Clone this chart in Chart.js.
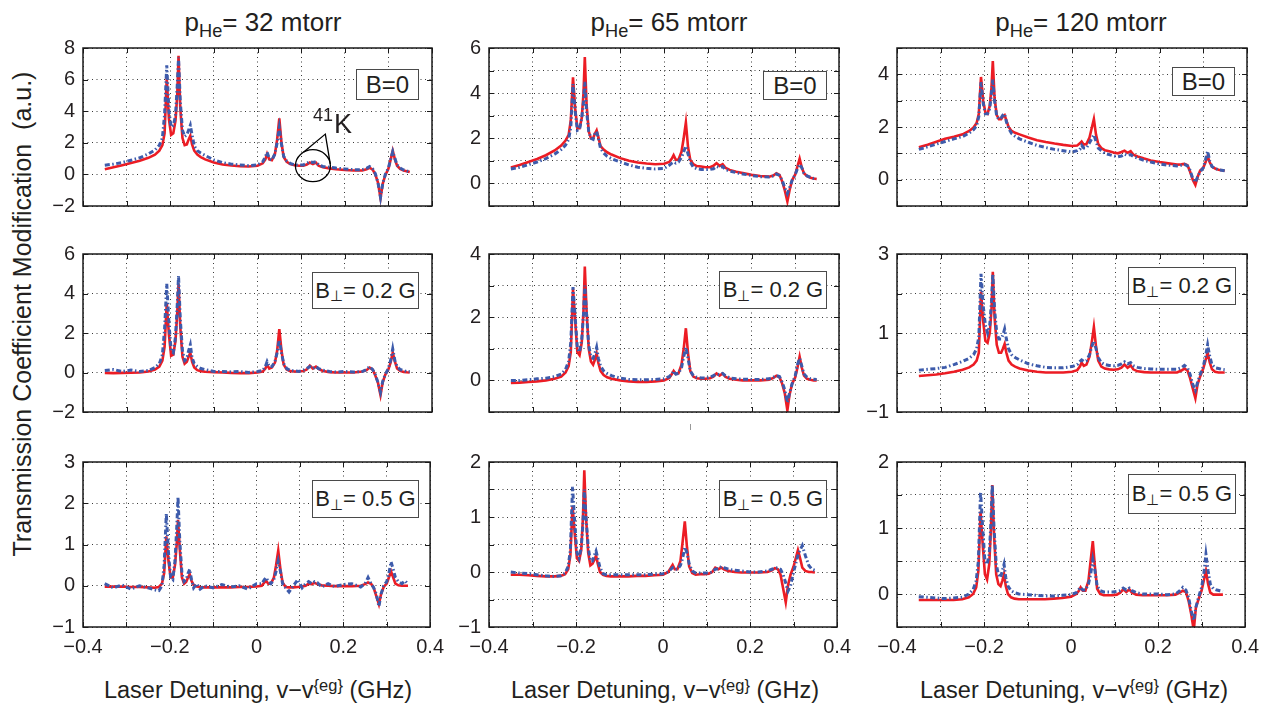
<!DOCTYPE html>
<html>
<head>
<meta charset="utf-8">
<script src="https://cdn.jsdelivr.net/npm/chart.js@4.4.1/dist/chart.umd.min.js"></script>
<style>
    body { margin: 0; background: #fff; }
    #figura { position: relative; width: 1272px; height: 709px; overflow: hidden;
              font-family: "Liberation Sans", Arial, Helvetica, sans-serif; color: #231f20; }
    #figura canvas { position: absolute; }
    .txt { position: absolute; white-space: nowrap; line-height: 1; }
    .titulo { font-size: 26px; transform: translateX(-50%); }
    .eixoX { font-size: 23.5px; transform: translateX(-50%); }
    .eixoY { position: absolute; left: -278px; top: 299px; width: 600px; height: 30px; line-height: 30px;
             text-align: center; white-space: nowrap; font-size: 25px; transform: rotate(-90deg); }
    .caixa { position: absolute; box-sizing: border-box; border: 1.5px solid #4a4a4a; background: #fff;
             font-size: 22px; line-height: 1; display: flex; align-items: center; justify-content: center;
             white-space: nowrap; }
    .caixa.b0 { font-size: 24px; }
    .sub { font-size: 0.7em; position: relative; top: 0.35em; }
    .sup { font-size: 0.7em; position: relative; top: -0.45em; }
</style>
</head>
<body>
<div id="figura">
    <div class="txt titulo" style="left:263px;top:9px">p<span class="sub">He</span>= 32 mtorr</div>
    <div class="txt titulo" style="left:669px;top:9px">p<span class="sub">He</span>= 65 mtorr</div>
    <div class="txt titulo" style="left:1081px;top:9px">p<span class="sub">He</span>= 120 mtorr</div>

    <div class="txt eixoX" style="left:258px;top:679px">Laser Detuning, v&minus;v<span class="sup">{eg}</span> (GHz)</div>
    <div class="txt eixoX" style="left:665px;top:679px">Laser Detuning, v&minus;v<span class="sup">{eg}</span> (GHz)</div>
    <div class="txt eixoX" style="left:1074px;top:679px">Laser Detuning, v&minus;v<span class="sup">{eg}</span> (GHz)</div>

    <div class="eixoY">Transmission Coefficient Modification&nbsp;&nbsp;(a.u.)</div>
</div>

<script>
// ============================================
// DADOS
// ============================================

// Eixo x comum: dessintonia do laser (GHz), mais denso perto dos picos
const detuning = [
    -0.35, -0.33, -0.31, -0.29, -0.27, -0.25, -0.235, -0.225, -0.218, -0.213,
    -0.208, -0.203, -0.198, -0.193, -0.188, -0.184, -0.181, -0.177, -0.172, -0.167,
    -0.162, -0.158, -0.154, -0.150, -0.145, -0.138, -0.13, -0.12, -0.10, -0.08,
    -0.06, -0.04, -0.02, 0.0, 0.012, 0.018, 0.022, 0.027, 0.033, 0.040,
    0.045, 0.050, 0.055, 0.060, 0.067, 0.075, 0.085, 0.095, 0.105, 0.113,
    0.120, 0.127, 0.134, 0.140, 0.150, 0.165, 0.18, 0.20, 0.22, 0.24,
    0.250, 0.257, 0.264, 0.270, 0.276, 0.282, 0.287, 0.293, 0.300, 0.305,
    0.310, 0.315, 0.320, 0.327, 0.335, 0.342, 0.349
];

// p_He = 32 mtorr
const fit32B0 = [
    0.33, 0.45, 0.58, 0.72, 0.87, 1.05, 1.25, 1.5, 1.85, 2.6,
    6.1, 3.5, 2.5, 2.6, 3.4, 5.0, 7.5, 4.2, 2.3, 1.85,
    1.9, 2.2, 2.45, 1.9, 1.5, 1.25, 1.1, 0.95, 0.75, 0.63,
    0.56, 0.52, 0.5, 0.55, 0.7, 0.95, 1.3, 0.95, 0.9, 1.3,
    2.2, 3.55, 2.0, 1.1, 0.8, 0.65, 0.58, 0.55, 0.55, 0.62,
    0.75, 0.65, 0.75, 0.55, 0.45, 0.38, 0.33, 0.28, 0.25, 0.25,
    0.32, 0.42, 0.3, 0.0, -0.5, -1.5, -0.6, -0.05, 0.35, 0.9,
    1.5, 0.95, 0.55, 0.35, 0.25, 0.2, 0.15
];
const dados32B0 = [
    0.58, 0.65, 0.75, 0.9, 1.05, 1.3, 1.55, 1.85, 2.3, 3.8,
    6.9, 4.0, 3.0, 3.1, 3.7, 5.6, 7.4, 4.6, 2.8, 2.4,
    2.5, 2.8, 3.1, 2.5, 1.8, 1.5, 1.35, 1.2, 0.92, 0.75,
    0.65, 0.6, 0.55, 0.6, 0.8, 1.1, 1.4, 1.0, 0.9, 1.3,
    2.0, 2.95, 1.9, 1.15, 0.85, 0.7, 0.6, 0.6, 0.6, 0.7,
    0.8, 0.75, 0.8, 0.6, 0.5, 0.45, 0.4, 0.35, 0.3, 0.3,
    0.38, 0.5, 0.35, 0.05, -0.5, -1.45, -0.6, 0.0, 0.4, 0.95,
    1.45, 1.0, 0.6, 0.4, 0.28, 0.22, 0.15
];
const fit32B02 = [
    -0.02, -0.03, -0.02, -0.01, 0.0, 0.05, 0.15, 0.3, 0.6, 1.3,
    3.5, 1.9, 0.85, 0.9, 1.6, 3.0, 4.5, 2.3, 0.8, 0.45,
    0.55, 0.8, 1.0, 0.55, 0.25, 0.12, 0.07, 0.04, 0.02, 0.0,
    -0.02, -0.03, -0.03, 0.0, 0.05, 0.2, 0.4, 0.2, 0.25, 0.5,
    1.1, 2.2, 1.1, 0.4, 0.15, 0.07, 0.05, 0.05, 0.08, 0.15,
    0.35, 0.2, 0.3, 0.18, 0.08, 0.02, 0.0, 0.0, 0.0, 0.05,
    0.12, 0.25, 0.15, -0.15, -0.5, -1.15, -0.5, -0.1, 0.15, 0.5,
    1.0, 0.55, 0.2, 0.08, 0.03, 0.01, 0.0
];
const dados32B02 = [
    0.1, 0.15, 0.05, 0.12, 0.05, 0.1, 0.25, 0.45, 0.9, 2.2,
    4.5, 2.5, 1.1, 1.0, 1.8, 3.4, 4.9, 2.7, 1.1, 0.6,
    0.7, 1.1, 1.4, 0.75, 0.45, 0.3, 0.2, 0.15, 0.05, 0.05,
    0.03, 0.05, 0.0, 0.05, 0.1, 0.3, 0.55, 0.3, 0.3, 0.55,
    1.0, 1.65, 1.0, 0.45, 0.2, 0.1, 0.08, 0.05, 0.12, 0.2,
    0.3, 0.2, 0.3, 0.2, 0.12, 0.05, 0.02, 0.05, 0.02, 0.05,
    0.15, 0.3, 0.15, -0.1, -0.5, -1.0, -0.45, -0.1, 0.2, 0.6,
    1.2, 0.6, 0.3, 0.15, 0.1, 0.05, 0.05
];
const fit32B05 = [
    -0.02, -0.02, -0.02, -0.03, -0.03, -0.04, -0.05, -0.03, 0.05, 0.3,
    1.2, 0.6, 0.2, 0.2, 0.5, 1.0, 1.6, 0.9, 0.2, 0.05,
    0.1, 0.2, 0.28, 0.12, 0.02, -0.02, -0.03, -0.04, -0.04, -0.04,
    -0.04, -0.03, -0.03, -0.02, 0.0, 0.08, 0.12, 0.05, 0.05, 0.2,
    0.5, 0.85, 0.4, 0.08, -0.03, -0.04, -0.04, -0.03, -0.02, 0.0,
    0.05, 0.04, 0.07, 0.04, 0.01, 0.0, -0.01, -0.01, -0.01, 0.0,
    0.04, 0.08, 0.05, -0.05, -0.25, -0.45, -0.2, -0.03, 0.05, 0.2,
    0.35, 0.2, 0.05, 0.01, 0.0, 0.0, 0.0
];
const dados32B05 = [
    0.05, -0.05, 0.02, -0.08, 0.0, -0.05, -0.1, -0.12, 0.0, 0.5,
    1.75, 0.8, 0.2, 0.15, 0.6, 1.4, 2.15, 1.1, 0.3, 0.1,
    0.15, 0.3, 0.4, 0.15, -0.05, 0.05, -0.08, 0.0, -0.05, 0.03,
    -0.03, 0.0, -0.08, 0.05, 0.05, 0.15, 0.2, 0.1, 0.05, 0.15,
    0.35, 0.6, 0.35, 0.05, -0.05, -0.15, 0.0, 0.15, -0.05, 0.05,
    0.1, 0.05, 0.1, 0.08, -0.03, 0.05, -0.02, 0.03, 0.05, -0.03,
    0.05, 0.2, 0.05, -0.05, -0.2, -0.5, -0.2, 0.0, 0.1, 0.3,
    0.58, 0.4, 0.2, 0.1, 0.05, 0.12, 0.05
];

// p_He = 65 mtorr
const fit65B0 = [
    0.71, 0.82, 0.95, 1.08, 1.25, 1.46, 1.68, 1.9, 2.15, 2.8,
    4.7, 3.3, 2.45, 2.45, 2.9, 4.0, 5.6, 3.5, 2.3, 2.0,
    2.0, 2.2, 2.35, 2.05, 1.65, 1.5, 1.38, 1.28, 1.12, 1.0,
    0.93, 0.88, 0.85, 0.87, 0.95, 1.1, 1.25, 1.05, 1.05, 1.4,
    2.0, 2.7, 1.6, 1.05, 0.85, 0.77, 0.75, 0.72, 0.72, 0.78,
    0.9, 0.78, 0.85, 0.7, 0.6, 0.52, 0.46, 0.38, 0.33, 0.3,
    0.35, 0.45, 0.38, 0.1, -0.3, -0.8, -0.3, 0.15, 0.4, 0.75,
    1.1, 0.7, 0.45, 0.32, 0.25, 0.22, 0.2
];
const dados65B0 = [
    0.64, 0.72, 0.83, 0.95, 1.1, 1.3, 1.5, 1.7, 1.95, 2.5,
    4.4, 3.2, 2.35, 2.4, 2.9, 3.6, 4.5, 3.2, 2.3, 2.0,
    1.95, 2.2, 2.3, 2.0, 1.55, 1.35, 1.2, 1.1, 0.95, 0.82,
    0.72, 0.67, 0.64, 0.66, 0.8, 0.9, 0.95, 0.9, 0.95, 1.15,
    1.4, 1.65, 1.3, 0.95, 0.72, 0.65, 0.62, 0.62, 0.62, 0.65,
    0.75, 0.7, 0.75, 0.62, 0.55, 0.48, 0.42, 0.35, 0.3, 0.28,
    0.33, 0.42, 0.35, 0.15, -0.2, -0.45, -0.2, 0.15, 0.4, 0.65,
    0.85, 0.7, 0.45, 0.33, 0.27, 0.22, 0.2
];
const fit65B02 = [
    -0.08, -0.07, -0.05, -0.03, 0.0, 0.05, 0.12, 0.25, 0.45, 0.9,
    2.9, 1.9, 0.9, 0.8, 1.2, 2.2, 3.6, 2.2, 1.0, 0.6,
    0.5, 0.65, 0.85, 0.55, 0.3, 0.17, 0.1, 0.05, 0.0, -0.03,
    -0.05, -0.05, -0.03, 0.0, 0.08, 0.2, 0.3, 0.2, 0.22, 0.5,
    1.0, 1.65, 0.85, 0.3, 0.12, 0.07, 0.05, 0.05, 0.07, 0.12,
    0.22, 0.15, 0.22, 0.12, 0.05, 0.02, 0.0, 0.0, 0.0, 0.02,
    0.08, 0.15, 0.1, -0.1, -0.4, -0.95, -0.45, -0.1, 0.1, 0.4,
    0.75, 0.4, 0.15, 0.05, 0.02, 0.0, 0.0
];
const dados65B02 = [
    0.0, 0.0, 0.02, 0.05, 0.07, 0.12, 0.2, 0.35, 0.6, 1.2,
    2.95, 2.0, 1.0, 0.9, 1.3, 2.1, 3.0, 2.1, 1.1, 0.75,
    0.7, 0.85, 1.05, 0.7, 0.45, 0.3, 0.22, 0.15, 0.07, 0.03,
    0.02, 0.02, 0.03, 0.05, 0.12, 0.2, 0.3, 0.2, 0.22, 0.4,
    0.75, 1.05, 0.7, 0.3, 0.15, 0.1, 0.08, 0.07, 0.1, 0.15,
    0.2, 0.18, 0.22, 0.15, 0.08, 0.05, 0.04, 0.03, 0.03, 0.05,
    0.1, 0.15, 0.12, -0.05, -0.3, -0.7, -0.4, -0.1, 0.15, 0.5,
    0.7, 0.45, 0.2, 0.1, 0.05, 0.04, 0.03
];
const fit65B05 = [
    -0.05, -0.05, -0.06, -0.07, -0.08, -0.08, -0.07, -0.04, 0.05, 0.3,
    1.2, 0.7, 0.25, 0.2, 0.4, 1.0, 1.85, 1.0, 0.35, 0.12,
    0.15, 0.22, 0.3, 0.15, 0.0, -0.05, -0.07, -0.08, -0.08, -0.08,
    -0.07, -0.07, -0.06, -0.05, 0.0, 0.08, 0.13, 0.05, 0.05, 0.2,
    0.55, 0.92, 0.45, 0.1, -0.02, -0.05, -0.04, -0.04, -0.03, 0.0,
    0.08, 0.05, 0.08, 0.05, 0.02, 0.0, -0.01, -0.01, -0.01, 0.0,
    0.03, 0.07, 0.05, -0.05, -0.3, -0.55, -0.25, -0.05, 0.1, 0.25,
    0.4, 0.25, 0.08, 0.02, 0.0, 0.0, -0.01
];
const dados65B05 = [
    0.0, -0.02, -0.03, -0.05, -0.07, -0.08, -0.07, -0.02, 0.1, 0.4,
    1.55, 0.9, 0.35, 0.25, 0.45, 0.9, 1.5, 1.0, 0.45, 0.2,
    0.2, 0.3, 0.38, 0.25, 0.08, -0.03, -0.05, -0.05, -0.05, -0.05,
    -0.05, -0.05, -0.04, -0.03, 0.0, 0.05, 0.08, 0.05, 0.05, 0.12,
    0.25, 0.45, 0.35, 0.15, 0.02, -0.02, -0.02, -0.02, -0.02, 0.0,
    0.05, 0.06, 0.1, 0.08, 0.05, 0.03, 0.02, 0.0, 0.0, 0.02,
    0.05, 0.07, 0.08, 0.05, -0.05, -0.2, -0.35, -0.25, 0.0, 0.15,
    0.3, 0.4, 0.48, 0.3, 0.12, 0.05, 0.03
];

// p_He = 120 mtorr
const fit120B0 = [
    1.23, 1.33, 1.44, 1.55, 1.63, 1.72, 1.85, 1.98, 2.15, 2.5,
    3.9, 3.0, 2.55, 2.5, 2.8, 3.5, 4.5, 3.1, 2.45, 2.3,
    2.3, 2.4, 2.45, 2.25, 2.0, 1.85, 1.78, 1.72, 1.6, 1.5,
    1.43, 1.37, 1.32, 1.28, 1.3, 1.38, 1.45, 1.33, 1.35, 1.6,
    1.95, 2.3, 1.7, 1.35, 1.2, 1.12, 1.08, 1.03, 1.0, 1.05,
    1.1, 1.02, 1.08, 0.95, 0.88, 0.8, 0.73, 0.67, 0.62, 0.57,
    0.58, 0.6, 0.55, 0.3, 0.0, -0.2, 0.1, 0.35, 0.45, 0.65,
    0.9, 0.65, 0.5, 0.42, 0.38, 0.36, 0.34
];
const dados120B0 = [
    1.15, 1.25, 1.35, 1.45, 1.55, 1.64, 1.77, 1.9, 2.05, 2.4,
    3.7, 2.9, 2.5, 2.5, 2.7, 3.3, 3.8, 3.0, 2.4, 2.3,
    2.35, 2.45, 2.5, 2.2, 1.95, 1.75, 1.65, 1.55, 1.42, 1.3,
    1.22, 1.15, 1.1, 1.05, 1.1, 1.15, 1.3, 1.2, 1.2, 1.4,
    1.55, 1.7, 1.45, 1.2, 1.1, 1.0, 0.95, 0.9, 0.87, 0.9,
    0.97, 0.92, 0.95, 0.88, 0.82, 0.73, 0.67, 0.6, 0.55, 0.52,
    0.55, 0.58, 0.52, 0.35, 0.05, -0.1, 0.1, 0.3, 0.45, 0.75,
    1.08, 0.7, 0.5, 0.42, 0.38, 0.36, 0.34
];
const fit120B02 = [
    -0.09, -0.07, -0.05, -0.02, 0.02, 0.07, 0.13, 0.2, 0.3, 0.5,
    2.05, 1.3, 0.8, 0.75, 1.0, 1.6, 2.55, 1.4, 0.7, 0.5,
    0.5, 0.6, 0.72, 0.5, 0.3, 0.2, 0.15, 0.1, 0.05, 0.02,
    0.0, 0.0, 0.0, 0.02, 0.06, 0.15, 0.25, 0.17, 0.2, 0.4,
    0.75, 1.15, 0.65, 0.3, 0.15, 0.1, 0.08, 0.07, 0.08, 0.12,
    0.2, 0.12, 0.18, 0.08, 0.03, 0.01, 0.0, 0.0, 0.0, 0.0,
    0.05, 0.1, 0.05, -0.15, -0.4, -0.65, -0.3, -0.1, 0.1, 0.3,
    0.5, 0.25, 0.08, 0.02, 0.0, 0.0, 0.0
];
const dados120B02 = [
    0.06, 0.08, 0.1, 0.13, 0.2, 0.28, 0.36, 0.45, 0.6, 0.9,
    2.5, 1.7, 1.2, 1.0, 1.2, 1.8, 2.5, 1.6, 1.0, 0.85,
    0.85, 0.95, 1.1, 0.85, 0.6, 0.45, 0.38, 0.32, 0.22, 0.17,
    0.13, 0.12, 0.12, 0.15, 0.2, 0.28, 0.32, 0.28, 0.3, 0.45,
    0.65, 0.8, 0.6, 0.38, 0.25, 0.2, 0.18, 0.17, 0.18, 0.22,
    0.27, 0.22, 0.25, 0.17, 0.13, 0.1, 0.09, 0.08, 0.08, 0.08,
    0.12, 0.18, 0.12, -0.05, -0.3, -0.45, -0.25, -0.05, 0.15, 0.4,
    0.7, 0.4, 0.2, 0.12, 0.1, 0.08, 0.07
];
const fit120B05 = [
    -0.09, -0.09, -0.09, -0.09, -0.09, -0.08, -0.05, 0.0, 0.1, 0.35,
    1.25, 0.75, 0.3, 0.22, 0.45, 1.0, 1.65, 0.9, 0.3, 0.15,
    0.12, 0.2, 0.3, 0.12, 0.0, -0.05, -0.07, -0.08, -0.08, -0.08,
    -0.08, -0.07, -0.06, -0.04, 0.0, 0.05, 0.1, 0.05, 0.05, 0.2,
    0.5, 0.8, 0.4, 0.08, 0.0, -0.02, -0.02, -0.02, -0.01, 0.02,
    0.07, 0.03, 0.07, 0.02, -0.01, -0.02, -0.02, -0.02, -0.02, -0.01,
    0.02, 0.05, 0.03, -0.1, -0.3, -0.55, -0.2, -0.08, 0.05, 0.2,
    0.35, 0.15, 0.02, -0.01, -0.01, -0.01, -0.01
];
const dados120B05 = [
    -0.04, -0.05, -0.06, -0.07, -0.06, -0.05, 0.0, 0.07, 0.2, 0.5,
    1.55, 1.0, 0.5, 0.45, 0.6, 1.1, 1.65, 1.0, 0.45, 0.3,
    0.25, 0.35, 0.45, 0.25, 0.12, 0.05, 0.02, 0.0, -0.01, -0.02,
    -0.03, -0.03, -0.02, -0.01, 0.02, 0.07, 0.1, 0.06, 0.06, 0.15,
    0.3, 0.52, 0.35, 0.12, 0.05, 0.03, 0.03, 0.03, 0.04, 0.05,
    0.09, 0.06, 0.09, 0.05, 0.02, 0.0, 0.0, 0.0, -0.01, 0.0,
    0.05, 0.1, 0.06, -0.05, -0.25, -0.4, -0.2, -0.05, 0.1, 0.3,
    0.6, 0.35, 0.15, 0.08, 0.06, 0.05, 0.04
];

// Rótulos dos ticks
const xTickLabels = [-0.4, -0.2, 0, 0.2, 0.4];
const yLabels32B0 = [-2, 0, 2, 4, 6, 8];
const yLabels32B02 = [-2, 0, 2, 4, 6];
const yLabels32B05 = [-1, 0, 1, 2, 3];
const yLabels65B0 = [0, 2, 4, 6];
const yLabels65B02 = [0, 2, 4];
const yLabels65B05 = [-1, 0, 1, 2];
const yLabels120B0 = [0, 2, 4];
const yLabels120B02 = [-1, 1, 3];
const yLabels120B05 = [0, 1, 2];

// Legendas das caixas de campo magnético
const camposB = ['B=0', 'B<span class="sub">\u22A5</span>= 0.2 G', 'B<span class="sub">\u22A5</span>= 0.5 G'];

// ============================================
// LAYOUT E ESTILO
// ============================================
const FONTE = '"Liberation Sans", Arial, Helvetica, sans-serif';
const COR_TEXTO = '#231f20';
const VERMELHO = '#ec1c24';
const AZUL = '#3d5bab';

const colLeft = [83, 489, 897];
const colWidth = [349, 350, 350];
const rowTop = [42, 248, 456];
const rowHeight = [170, 170, 171];

const LARGURA_Y = 60;
const PAD_TOP = 14;
const PAD_RIGHT = 20;

// caixas [left, top, width, height] por linha/coluna
const caixas = [
    [[356, 69, 63, 31], [763, 71, 64, 29], [1172, 67, 63, 29]],
    [[312, 272, 107, 37], [719, 271, 108, 38], [1128, 267, 108, 38]],
    [[312, 480, 107, 38], [719, 480, 108, 38], [1128, 474, 108, 40]]
];

const paineis = [
    { row: 0, col: 0, fit: fit32B0, dados: dados32B0, yMin: -2, yMax: 8, yStep: 2, yLabels: yLabels32B0 },
    { row: 0, col: 1, fit: fit65B0, dados: dados65B0, yMin: -1, yMax: 6, yStep: 1, yLabels: yLabels65B0 },
    { row: 0, col: 2, fit: fit120B0, dados: dados120B0, yMin: -1, yMax: 5, yStep: 1, yLabels: yLabels120B0 },
    { row: 1, col: 0, fit: fit32B02, dados: dados32B02, yMin: -2, yMax: 6, yStep: 2, yLabels: yLabels32B02 },
    { row: 1, col: 1, fit: fit65B02, dados: dados65B02, yMin: -1, yMax: 4, yStep: 1, yLabels: yLabels65B02 },
    { row: 1, col: 2, fit: fit120B02, dados: dados120B02, yMin: -1, yMax: 3, yStep: 1, yLabels: yLabels120B02 },
    { row: 2, col: 0, fit: fit32B05, dados: dados32B05, yMin: -1, yMax: 3, yStep: 1, yLabels: yLabels32B05 },
    { row: 2, col: 1, fit: fit65B05, dados: dados65B05, yMin: -1, yMax: 2, yStep: 0.5, yLabels: yLabels65B05 },
    { row: 2, col: 2, fit: fit120B05, dados: dados120B05, yMin: -0.5, yMax: 2, yStep: 0.5, yLabels: yLabels120B05 }
];

// ============================================
// PLUGINS
// ============================================

/**
 * Moldura do gráfico com ticks para dentro (estilo MATLAB)
 */
const moldura = {
    id: 'moldura',
    afterDraw(chart) {
        const { ctx, chartArea: a, scales } = chart;
        ctx.save();
        ctx.strokeStyle = '#1a1a1a';
        ctx.lineWidth = 1;
        ctx.beginPath();
        scales.x.ticks.forEach(t => {
            const px = Math.round(scales.x.getPixelForValue(t.value)) + 0.5;
            ctx.moveTo(px, a.bottom); ctx.lineTo(px, a.bottom - 5);
            ctx.moveTo(px, a.top); ctx.lineTo(px, a.top + 5);
        });
        scales.y.ticks.forEach(t => {
            const py = Math.round(scales.y.getPixelForValue(t.value)) + 0.5;
            ctx.moveTo(a.left, py); ctx.lineTo(a.left + 5, py);
            ctx.moveTo(a.right, py); ctx.lineTo(a.right - 5, py);
        });
        ctx.stroke();
        ctx.lineWidth = 1.5;
        ctx.strokeRect(a.left, a.top, a.right - a.left, a.bottom - a.top);
        ctx.restore();
    }
};

/**
 * Círculo e setas da anotação 41K (só no primeiro painel)
 */
const anotacaoK41 = {
    id: 'anotacaoK41',
    afterDatasetsDraw(chart) {
        const { ctx, scales: { x, y } } = chart;
        const cx = x.getPixelForValue(0.127);
        const cy = y.getPixelForValue(0.55);
        const ax = x.getPixelForValue(0.1555);
        const ay = y.getPixelForValue(2.55);
        ctx.save();
        ctx.strokeStyle = '#000';
        ctx.lineWidth = 1.3;
        ctx.beginPath();
        ctx.ellipse(cx, cy, 17.5, 16, 0, 0, 2 * Math.PI);
        ctx.stroke();
        ctx.beginPath();
        ctx.moveTo(cx - 9.5, cy - 13.5);
        ctx.lineTo(ax, ay);
        ctx.lineTo(cx + 17.4, cy - 1.5);
        ctx.stroke();
        ctx.restore();
    }
};

// ============================================
// FUNÇÕES DE GRÁFICOS
// ============================================

function formatarTick(v) {
    const r = Math.round(v * 10) / 10;
    if (r === 0) return '0';
    return (r < 0 ? '\u2212' : '') + Math.abs(r);
}

function contem(lista, v) {
    return lista.some(l => Math.abs(l - v) < 1e-6);
}

/**
 * Criar um painel (canvas posicionado + Chart)
 */
function criarPainel(p) {
    const figura = document.getElementById('figura');
    const linhaDeBaixo = p.row === 2;
    const alturaX = linhaDeBaixo ? 40 : 14;

    const w = LARGURA_Y + colWidth[p.col] + PAD_RIGHT;
    const h = PAD_TOP + rowHeight[p.row] + alturaX;
    const canvas = document.createElement('canvas');
    canvas.width = w;
    canvas.height = h;
    canvas.style.left = (colLeft[p.col] - LARGURA_Y) + 'px';
    canvas.style.top = (rowTop[p.row] - PAD_TOP) + 'px';
    canvas.style.width = w + 'px';
    canvas.style.height = h + 'px';
    figura.appendChild(canvas);

    const grade = { color: '#3a3a3a', lineWidth: 1, drawTicks: false, borderDash: [1, 3.5] };
    const borda = { display: false, dash: [1, 3.5] };
    const fonteTicks = { family: FONTE, size: 20 };

    const plugins = [moldura];
    if (p.row === 0 && p.col === 0) plugins.push(anotacaoK41);

    new Chart(canvas.getContext('2d'), {
        type: 'line',
        data: {
            datasets: [
                {
                    label: 'Dados',
                    data: detuning.map((x, i) => ({ x: x, y: p.dados[i] })),
                    borderColor: AZUL,
                    borderWidth: 3,
                    borderDash: [5, 2.5, 1.5, 2.5],
                    pointRadius: 0,
                    fill: false
                },
                {
                    label: 'Modelo',
                    data: detuning.map((x, i) => ({ x: x, y: p.fit[i] })),
                    borderColor: VERMELHO,
                    borderWidth: 2.6,
                    pointRadius: 0,
                    fill: false
                }
            ]
        },
        options: {
            responsive: false,
            animation: false,
            events: [],
            layout: { padding: { top: PAD_TOP, right: PAD_RIGHT, left: 0, bottom: 0 } },
            plugins: {
                legend: { display: false },
                tooltip: { enabled: false }
            },
            scales: {
                x: {
                    type: 'linear',
                    min: -0.4,
                    max: 0.4,
                    afterFit: s => { s.height = alturaX; },
                    ticks: {
                        stepSize: 0.1,
                        autoSkip: false,
                        maxRotation: 0,
                        padding: 8,
                        color: COR_TEXTO,
                        font: fonteTicks,
                        callback: v => (linhaDeBaixo && contem(xTickLabels, v)) ? formatarTick(v) : ''
                    },
                    grid: grade,
                    border: borda
                },
                y: {
                    type: 'linear',
                    min: p.yMin,
                    max: p.yMax,
                    afterFit: s => { s.width = LARGURA_Y; },
                    ticks: {
                        stepSize: p.yStep,
                        autoSkip: false,
                        padding: 8,
                        color: COR_TEXTO,
                        font: fonteTicks,
                        callback: v => contem(p.yLabels, v) ? formatarTick(v) : ''
                    },
                    grid: grade,
                    border: borda
                }
            }
        },
        plugins: plugins
    });
}

/**
 * Caixas de texto e anotações em HTML
 */
function criarTextos() {
    const figura = document.getElementById('figura');
    caixas.forEach((linha, r) => {
        linha.forEach(c => {
            const d = document.createElement('div');
            d.className = r === 0 ? 'caixa b0' : 'caixa';
            d.style.left = c[0] + 'px';
            d.style.top = c[1] + 'px';
            d.style.width = c[2] + 'px';
            d.style.height = c[3] + 'px';
            d.innerHTML = camposB[r];
            figura.appendChild(d);
        });
    });

    // anotação 41K
    const sup = document.createElement('div');
    sup.className = 'txt';
    sup.style.cssText = 'left:313px;top:106px;font-size:18px';
    sup.textContent = '41';
    figura.appendChild(sup);
    const k = document.createElement('div');
    k.className = 'txt';
    k.style.cssText = 'left:334px;top:111px;font-size:27px';
    k.textContent = 'K';
    figura.appendChild(k);

    // pequeno traço perdido abaixo do painel central
    const tr = document.createElement('div');
    tr.style.cssText = 'position:absolute;left:690px;top:424px;width:1px;height:6px;background:#999';
    figura.appendChild(tr);
}

paineis.forEach(criarPainel);
criarTextos();
</script>
</body>
</html>
